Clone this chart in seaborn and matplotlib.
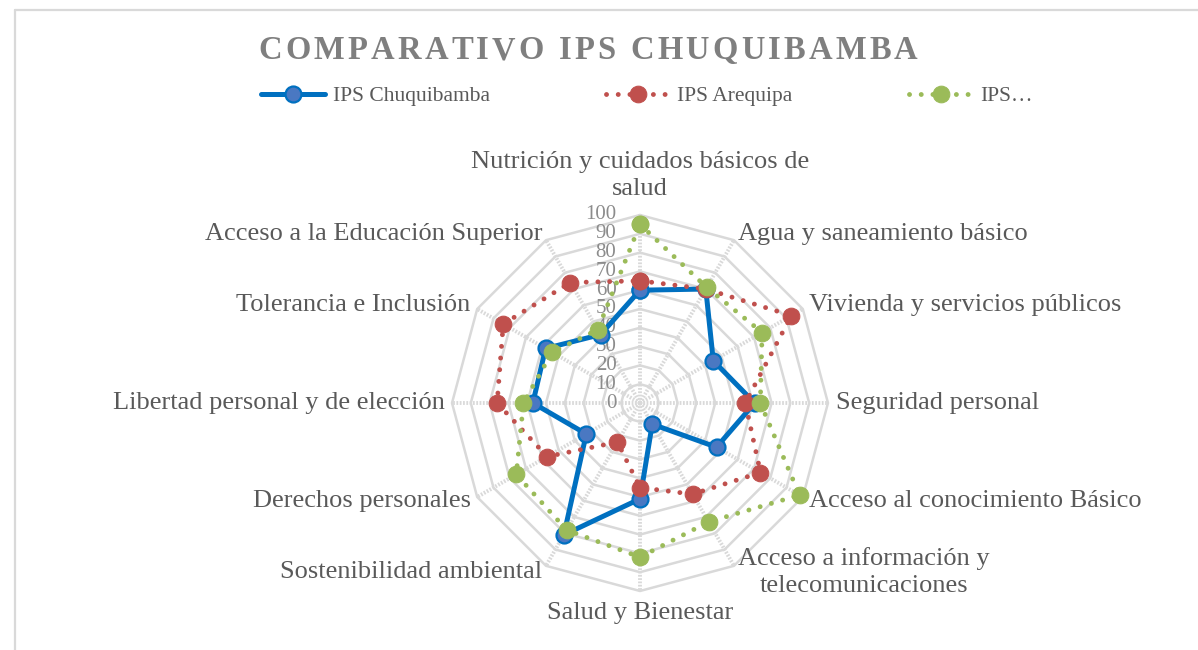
import numpy as np
import pandas as pd
import matplotlib
matplotlib.use('Agg')
from matplotlib import pyplot as plt
from matplotlib.lines import Line2D
import seaborn as sns

categorias = ['Nutrición y cuidados básicos de\nsalud', 'Agua y saneamiento básico',
              'Vivienda y servicios públicos', 'Seguridad personal',
              'Acceso al conocimiento Básico', 'Acceso a información y\ntelecomunicaciones',
              'Salud y Bienestar', 'Sostenibilidad ambiental', 'Derechos personales',
              'Libertad personal y de elección', 'Tolerancia e Inclusión',
              'Acceso a la Educación Superior']
chuquibamba = [60, 70, 45, 61, 47, 13, 51, 81, 33, 57, 58, 42]
arequipa = [65, 70, 93, 56, 74, 56, 45, 24, 57, 76, 84, 74]
peru = [95, 71, 75, 64, 98, 73, 82, 78, 76, 62, 54, 45]
series = ['IPS Chuquibamba', 'IPS Arequipa', 'IPS…']
niveles = list(range(0, 101, 10))

sns.set_theme(style='white')
plt.rcParams['font.family'] = ['Liberation Serif', 'DejaVu Serif']

W, H = 1198, 650
fig = plt.figure(figsize=(W / 100, H / 100), dpi=100)
fig.patch.set_facecolor('white')

# marco del gráfico (arriba e izquierda)
gris_marco = '#d9d9d9'
fig.add_artist(Line2D([15 / W, 1], [1 - 10 / H, 1 - 10 / H], color=gris_marco, lw=1.6))
fig.add_artist(Line2D([15 / W, 15 / W], [0, 1 - 10 / H], color=gris_marco, lw=1.6))

cx, cy, R = 640, 403, 188
ax = fig.add_axes([(cx - R) / W, (H - cy - R) / H, 2 * R / W, 2 * R / H], projection='polar')
ax.set_theta_zero_location('N')
ax.set_theta_direction(-1)
ax.set_facecolor('none')
ax.grid(False)
ax.spines['polar'].set_visible(False)

n = len(categorias)
theta = np.linspace(0, 2 * np.pi, n, endpoint=False)
theta_c = np.append(theta, 2 * np.pi)

# rejilla poligonal
for nv in niveles[1:]:
    ax.plot(theta_c, [nv] * (n + 1), color='#d9d9d9', lw=1.8, zorder=1, clip_on=False)
for t in theta:
    ax.plot([t, t], [0, 100], color='#d9d9d9', lw=2.8, ls=(0, (0.45, 0.4)), zorder=1, clip_on=False)

df = pd.DataFrame({
    'theta': np.tile(theta_c, 3),
    'valor': chuquibamba + chuquibamba[:1] + arequipa + arequipa[:1] + peru + peru[:1],
    'serie': np.repeat(series, n + 1),
})

estilos = {
    'IPS Chuquibamba': dict(color='#0070C0', lw=3.6, ls='-', markerfacecolor='#4a78c2',
                            markeredgecolor='#0070C0', markersize=11.5, markeredgewidth=1.6),
    'IPS Arequipa': dict(color='#C0504D', lw=3.5, ls=(0, (0.01, 2.4)), dash_capstyle='round',
                         markerfacecolor='#C0504D', markeredgecolor='#C0504D', markersize=12),
    'IPS…': dict(color='#9BBB59', lw=3.5, ls=(0, (0.01, 2.4)), dash_capstyle='round',
                 markerfacecolor='#9BBB59', markeredgecolor='#9BBB59', markersize=12),
}
for i, s in enumerate(series):
    sns.lineplot(data=df[df['serie'] == s], x='theta', y='valor', sort=False, estimator=None,
                 ax=ax, marker='o', label=s, legend=False, zorder=3 + i, clip_on=False,
                 **estilos[s])
if ax.get_legend() is not None:
    ax.get_legend().remove()

ax.set_ylim(0, 100)
ax.set_xticks([])
ax.set_yticks([])
ax.set_xlabel('')
ax.set_ylabel('')

# etiquetas del eje radial
for nv in niveles:
    ax.annotate(str(nv), xy=(0, nv), xytext=(-17, 0), textcoords='offset points',
                ha='right', va='center', fontsize=15, color='#8c8c8c', zorder=2)

# etiquetas de categorías
for t, cat in zip(theta, categorias):
    g = np.degrees(t)
    if g == 0:
        ha, va, r = 'center', 'bottom', 108
    elif g == 180:
        ha, va, r = 'center', 'top', 106
    elif g < 180:
        ha, va, r = 'left', 'center', 104
    else:
        ha, va, r = 'right', 'center', 104
    ax.text(t, r, cat, ha=ha, va=va, fontsize=19, color='#595959',
            multialignment='center', linespacing=1.3)

# título con espaciado entre letras
titulo = 'COMPARATIVO IPS CHUQUIBAMBA'
renderer = fig.canvas.get_renderer()
fs_t = 23.5
esp = 3.2
anchos = []
for ch in titulo:
    if ch == ' ':
        anchos.append(fs_t * 1.389 * 0.25)
    else:
        tt = fig.text(0, 0, ch, fontsize=fs_t, fontweight='bold')
        anchos.append(tt.get_window_extent(renderer).width)
        tt.remove()
total = sum(anchos) + esp * (len(titulo) - 1)
x = 588 - total / 2
for ch, a in zip(titulo, anchos):
    if ch != ' ':
        fig.text(x / W, 1 - 59 / H, ch, fontsize=fs_t, fontweight='bold', color='#7f7f7f',
                 ha='left', va='baseline')
    x += a + esp

handles, labels = ax.get_legend_handles_labels()
fig.legend(handles, labels, loc='center', bbox_to_anchor=(647 / W, 1 - 96 / H), ncol=3,
           frameon=False, fontsize=15.5, handlelength=3.0, handletextpad=0.33,
           columnspacing=5.4, labelcolor='#595959')

fig.savefig('out.png', dpi=100, facecolor='white')
